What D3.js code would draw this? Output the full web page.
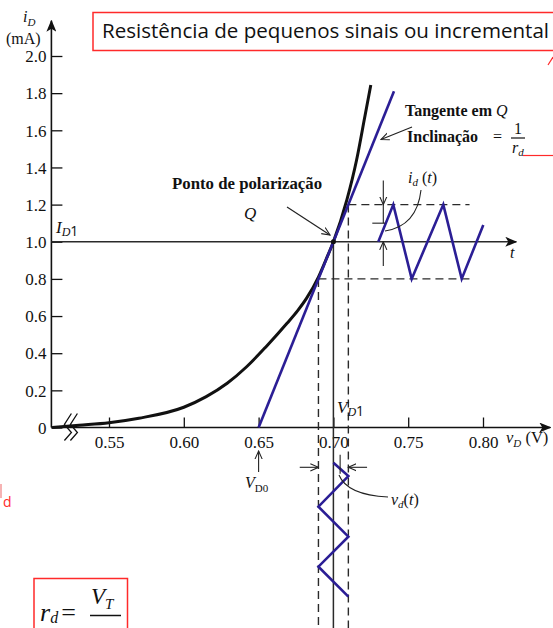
<!DOCTYPE html>
<html>
<head>
<meta charset="utf-8">
<script src="https://cdn.jsdelivr.net/npm/d3@7"></script>
<style>
  html, body { margin: 0; padding: 0; background: #fff; }
  svg { display: block; }
  .serif { font-family: "Liberation Serif", "DejaVu Serif", serif; }
  .sans { font-family: "Open Sans", "Liberation Sans", sans-serif; }
</style>
</head>
<body>
<svg id="chart" width="553" height="628"></svg>
<script>
// Diode i-v characteristic (mA vs V)
const curveV = [0.512, 0.53, 0.55, 0.57, 0.60, 0.615, 0.629, 0.642, 0.655, 0.669, 0.676, 0.682, 0.690, 0.695, 0.700, 0.709, 0.7155, 0.721, 0.725];
const curveI = [0.0, 0.012, 0.026, 0.05, 0.109, 0.166, 0.238, 0.327, 0.435, 0.561, 0.628, 0.695, 0.81, 0.903, 1.0, 1.225, 1.44, 1.673, 1.844];

// Tangent at the bias point Q (slope 1/r_d)
const tangentV = [0.65, 0.7405];
const tangentI = [0.0, 1.81];

// Bias point
const qV = 0.70, qI = 1.0;
// Signal swing limits
const swingV = [0.69, 0.71];
const swingI = [0.8, 1.2];

// Small-signal current i_d(t): time (arbitrary units) and current (mA)
const idT = [0, 0.75, 1.67, 3.25, 4.17, 5.25];
const idI = [1.0, 1.2, 0.8, 1.2, 0.8, 1.09];

// Small-signal voltage v_d(t): voltage (V) and time downward (arbitrary units)
const vdV = [0.70, 0.71, 0.69, 0.71, 0.69, 0.71];
const vdT = [0, 0.67, 2.2, 3.7, 5.2, 6.7];

// Tick labels
const xTicks = [0.55, 0.60, 0.65, 0.70, 0.75, 0.80];
const yTicks = [0, 0.2, 0.4, 0.6, 0.8, 1.0, 1.2, 1.4, 1.6, 1.8, 2.0];

// Axis extents
const vAxisMin = 0.5115, vAxisMax = 0.845, iAxisMax = 2.19;
const iBelow = -1.1;
const tAxisMax = 6.9;
const swingEndV = 0.791;

const svg = d3.select("#chart");
const x = d3.scaleLinear().domain([0.55, 0.80]).range([109, 483]);
const y = d3.scaleLinear().domain([0, 2.0]).range([427.5, 56]);
const tx = d3.scaleLinear().domain([0, 1]).range([378.3, 398.3]);   // time axis of i_d(t)
const ty = d3.scaleLinear().domain([0, 1]).range([462.7, 482.7]);   // time axis of v_d(t)

const BLACK = "#111", BLUE = "#2b1e95", GRID = "#2a2a2a", RED = "#ff2a2a";

// arrow markers
const defs = svg.append("defs");
defs.append("marker").attr("id", "solidArrow").attr("viewBox", "0 0 12 10")
  .attr("refX", 11).attr("refY", 5).attr("markerWidth", 12).attr("markerHeight", 10)
  .attr("markerUnits", "userSpaceOnUse").attr("orient", "auto")
  .append("path").attr("d", "M0,0 L12,5 L0,10 L3,5 Z").attr("fill", "#111");
defs.append("marker").attr("id", "openArrow").attr("viewBox", "0 0 10 10")
  .attr("refX", 9).attr("refY", 5).attr("markerWidth", 9).attr("markerHeight", 9)
  .attr("markerUnits", "userSpaceOnUse").attr("orient", "auto")
  .append("path").attr("d", "M0,1 L9,5 L0,9").attr("fill", "none").attr("stroke", "#222").attr("stroke-width", 1.2);

// ---- Axes ----
const yAxis = d3.axisLeft(y).tickValues(yTicks)
  .tickFormat(d => d === 0 ? "0" : d3.format(".1f")(d))
  .tickSizeInner(-11).tickSizeOuter(0).tickPadding(5);
const gy = svg.append("g").attr("transform", `translate(${x(vAxisMin)},0)`).call(yAxis);
gy.select(".domain").remove();
gy.selectAll(".tick line").attr("stroke", BLACK).attr("stroke-width", 1.3);
gy.selectAll(".tick text").attr("class", "serif").attr("font-size", 17).attr("fill", "#111").attr("dy", "0.34em");

const xAxis = d3.axisBottom(x).tickValues(xTicks).tickFormat(d3.format(".2f"))
  .tickSizeInner(-10).tickSizeOuter(0).tickPadding(5);
const gx = svg.append("g").attr("transform", `translate(0,${y(0)})`).call(xAxis);
gx.select(".domain").remove();
gx.selectAll(".tick line").attr("stroke", BLACK).attr("stroke-width", 1.3);
gx.selectAll(".tick text").attr("class", "serif").attr("font-size", 17).attr("fill", "#111").attr("dy", "0.9em");

// axis lines with arrowheads
svg.append("line").attr("x1", x(vAxisMin)).attr("y1", y(0)).attr("x2", x(vAxisMin)).attr("y2", y(iAxisMax))
  .attr("stroke", BLACK).attr("stroke-width", 1.6).attr("marker-end", "url(#solidArrow)");
svg.append("line").attr("x1", x(vAxisMin)).attr("y1", y(0)).attr("x2", x(vAxisMax)).attr("y2", y(0))
  .attr("stroke", BLACK).attr("stroke-width", 1.6).attr("marker-end", "url(#solidArrow)");

// axis break mark
const bx = x(vAxisMin) + 14, by = y(0);
[0, 6].forEach(o => {
  svg.append("path")
    .attr("d", `M${bx + o + 6},${by - 14} L${bx + o - 1},${by - 3} L${bx + o + 6},${by + 5} L${bx + o - 1},${by + 13}`)
    .attr("fill", "none").attr("stroke", BLACK).attr("stroke-width", 1.3);
});

// axis titles
const iD = svg.append("text").attr("class", "serif").attr("x", 23).attr("y", 22).attr("font-size", 16).attr("font-style", "italic").attr("fill", "#111");
iD.append("tspan").text("i");
iD.append("tspan").attr("font-size", 11).attr("dy", 4).text("D");
svg.append("text").attr("class", "serif").attr("x", 6).attr("y", 44).attr("font-size", 16).attr("fill", "#111").text("(mA)");

const vD = svg.append("text").attr("class", "serif").attr("x", 506).attr("y", 443).attr("font-size", 16.5).attr("fill", "#111");
vD.append("tspan").attr("font-style", "italic").text("v");
vD.append("tspan").attr("font-style", "italic").attr("font-size", 11).attr("dy", 4).text("D");
vD.append("tspan").attr("dy", -4).text(" (V)");

// ---- Reference lines ----
// horizontal line at I_D1, continuing as time axis of i_d(t)
svg.append("line").attr("x1", x(vAxisMin)).attr("y1", y(qI)).attr("x2", tx(tAxisMax)).attr("y2", y(qI))
  .attr("stroke", GRID).attr("stroke-width", 1.5).attr("marker-end", "url(#solidArrow)");
// vertical solid line at V_D1
svg.append("line").attr("x1", x(qV)).attr("y1", y(qI)).attr("x2", x(qV)).attr("y2", y(iBelow))
  .attr("stroke", GRID).attr("stroke-width", 1.5);

// dashed swing lines
const dash = "8,5";
svg.append("line").attr("x1", x(swingV[1])).attr("y1", y(swingI[1])).attr("x2", x(swingEndV)).attr("y2", y(swingI[1]))
  .attr("stroke", GRID).attr("stroke-width", 1.4).attr("stroke-dasharray", dash);
svg.append("line").attr("x1", x(swingV[0])).attr("y1", y(swingI[0])).attr("x2", x(swingEndV)).attr("y2", y(swingI[0]))
  .attr("stroke", GRID).attr("stroke-width", 1.4).attr("stroke-dasharray", dash);
svg.append("line").attr("x1", x(swingV[1])).attr("y1", y(swingI[1])).attr("x2", x(swingV[1])).attr("y2", y(iBelow))
  .attr("stroke", GRID).attr("stroke-width", 1.4).attr("stroke-dasharray", dash);
svg.append("line").attr("x1", x(swingV[0])).attr("y1", y(swingI[0])).attr("x2", x(swingV[0])).attr("y2", y(iBelow))
  .attr("stroke", GRID).attr("stroke-width", 1.4).attr("stroke-dasharray", dash);

// ---- Characteristic and tangent ----
const curveData = curveV.map((v, k) => [v, curveI[k]]);
svg.append("path").datum(curveData)
  .attr("d", d3.line().x(d => x(d[0])).y(d => y(d[1])).curve(d3.curveMonotoneX))
  .attr("fill", "none").attr("stroke", BLACK).attr("stroke-width", 3);

const tanData = tangentV.map((v, k) => [v, tangentI[k]]);
svg.append("path").datum(tanData)
  .attr("d", d3.line().x(d => x(d[0])).y(d => y(d[1])))
  .attr("fill", "none").attr("stroke", BLUE).attr("stroke-width", 2.6);

svg.append("circle").attr("cx", x(qV)).attr("cy", y(qI)).attr("r", 2.5).attr("fill", BLACK);

// ---- i_d(t) ----
const idData = idT.map((t, k) => [t, idI[k]]);
svg.append("path").datum(idData)
  .attr("d", d3.line().x(d => tx(d[0])).y(d => y(d[1])))
  .attr("fill", "none").attr("stroke", BLUE).attr("stroke-width", 2.6).attr("stroke-linejoin", "miter");

// amplitude markers
const ax = tx(idT[0]) + 5;
svg.append("line").attr("x1", ax).attr("y1", y(1.33)).attr("x2", ax).attr("y2", y(1.2)).attr("stroke", "#222").attr("stroke-width", 1.1).attr("marker-end", "url(#openArrow)");
svg.append("line").attr("x1", ax).attr("y1", y(1.2)).attr("x2", ax).attr("y2", y(1.1)).attr("stroke", "#222").attr("stroke-width", 1.1);
svg.append("line").attr("x1", ax - 11).attr("y1", y(1.1)).attr("x2", ax + 2).attr("y2", y(1.1)).attr("stroke", "#222").attr("stroke-width", 1.1);
svg.append("line").attr("x1", ax).attr("y1", y(0.87)).attr("x2", ax).attr("y2", y(1.0)).attr("stroke", "#222").attr("stroke-width", 1.1).attr("marker-end", "url(#openArrow)");

// i_d(t) label and leader
svg.append("path").attr("d", `M421,190 Q417,226 385,231`).attr("fill", "none").attr("stroke", "#222").attr("stroke-width", 1.1);
const idL = svg.append("text").attr("class", "serif").attr("x", 408).attr("y", 183).attr("font-size", 16).attr("fill", "#111");
idL.append("tspan").attr("font-style", "italic").text("i");
idL.append("tspan").attr("font-style", "italic").attr("font-size", 11).attr("dy", 3).text("d");
idL.append("tspan").attr("dy", -3).text(" (");
idL.append("tspan").attr("font-style", "italic").text("t");
idL.append("tspan").text(")");

svg.append("text").attr("class", "serif").attr("x", 510).attr("y", 258).attr("font-size", 16).attr("font-style", "italic").attr("fill", "#111").text("t");

// ---- v_d(t) ----
const vdData = vdV.map((v, k) => [v, vdT[k]]);
svg.append("path").datum(vdData)
  .attr("d", d3.line().x(d => x(d[0])).y(d => ty(d[1])))
  .attr("fill", "none").attr("stroke", BLUE).attr("stroke-width", 2.6);

const ay = ty(0.23);
svg.append("line").attr("x1", x(0.6775)).attr("y1", ay).attr("x2", x(swingV[0])).attr("y2", ay).attr("stroke", "#222").attr("stroke-width", 1.1).attr("marker-end", "url(#openArrow)");
svg.append("line").attr("x1", x(0.7225)).attr("y1", ay).attr("x2", x(swingV[1])).attr("y2", ay).attr("stroke", "#222").attr("stroke-width", 1.1).attr("marker-end", "url(#openArrow)");
svg.append("line").attr("x1", x(0.7045)).attr("y1", ty(-0.4)).attr("x2", x(0.7045)).attr("y2", ty(0.55)).attr("stroke", "#222").attr("stroke-width", 1.1);

svg.append("path").attr("d", `M339,475 Q347,495 388,497`).attr("fill", "none").attr("stroke", "#222").attr("stroke-width", 1.1);
const vdL = svg.append("text").attr("class", "serif").attr("x", 391).attr("y", 505).attr("font-size", 16).attr("fill", "#111");
vdL.append("tspan").attr("font-style", "italic").text("v");
vdL.append("tspan").attr("font-style", "italic").attr("font-size", 11).attr("dy", 3).text("d");
vdL.append("tspan").attr("dy", -3).text("(");
vdL.append("tspan").attr("font-style", "italic").text("t");
vdL.append("tspan").text(")");

// ---- V_D0 ----
svg.append("line").attr("x1", x(tangentV[0])).attr("y1", 472).attr("x2", x(tangentV[0])).attr("y2", 451)
  .attr("stroke", "#222").attr("stroke-width", 1.1).attr("marker-end", "url(#openArrow)");
const vd0 = svg.append("text").attr("class", "serif").attr("x", 245).attr("y", 488).attr("font-size", 16).attr("fill", "#111");
vd0.append("tspan").attr("font-style", "italic").text("V");
vd0.append("tspan").attr("font-size", 11).attr("dy", 4).text("D0");

// ---- Labels on the bias point ----
const id1 = svg.append("text").attr("x", 56).attr("y", 233).attr("font-size", 17).attr("fill", "#111");
id1.append("tspan").attr("class", "serif").attr("font-style", "italic").text("I");
id1.append("tspan").attr("class", "serif").attr("font-style", "italic").attr("font-size", 12).attr("dy", 3).text("D");
id1.append("tspan").attr("class", "sans").attr("font-size", 14).text("1");

const vd1 = svg.append("text").attr("x", 337).attr("y", 413).attr("font-size", 17).attr("fill", "#111");
vd1.append("tspan").attr("class", "serif").attr("font-style", "italic").text("V");
vd1.append("tspan").attr("class", "serif").attr("font-style", "italic").attr("font-size", 12).attr("dy", 3).text("D");
vd1.append("tspan").attr("class", "sans").attr("font-size", 14).text("1");

svg.append("text").attr("class", "serif").attr("x", 172).attr("y", 189).attr("font-size", 16.8).attr("font-weight", "bold").attr("fill", "#111").text("Ponto de polarização");
svg.append("text").attr("class", "serif").attr("x", 244).attr("y", 219).attr("font-size", 17).attr("font-style", "italic").attr("fill", "#111").text("Q");
svg.append("line").attr("x1", 287).attr("y1", 207).attr("x2", 330).attr("y2", 235)
  .attr("stroke", "#222").attr("stroke-width", 1.2).attr("marker-end", "url(#openArrow)");

const tg = svg.append("text").attr("class", "serif").attr("x", 405).attr("y", 116).attr("font-size", 16).attr("font-weight", "bold").attr("fill", "#111");
tg.append("tspan").text("Tangente em ");
tg.append("tspan").attr("font-style", "italic").attr("font-weight", "normal").text("Q");
svg.append("text").attr("class", "serif").attr("x", 407).attr("y", 142).attr("font-size", 16).attr("font-weight", "bold").attr("fill", "#111").text("Inclinação");
svg.append("text").attr("class", "serif").attr("x", 493).attr("y", 142).attr("font-size", 16).attr("fill", "#111").text("=");
svg.append("text").attr("class", "serif").attr("x", 518).attr("y", 134).attr("font-size", 16).attr("text-anchor", "middle").attr("fill", "#111").text("1");
svg.append("line").attr("x1", 511).attr("y1", 138).attr("x2", 525).attr("y2", 138).attr("stroke", "#111").attr("stroke-width", 1.2);
const rd = svg.append("text").attr("class", "serif").attr("x", 512).attr("y", 153).attr("font-size", 16).attr("font-style", "italic").attr("fill", "#111");
rd.append("tspan").text("r");
rd.append("tspan").attr("font-size", 11).attr("dy", 3).text("d");
svg.append("line").attr("x1", 412).attr("y1", 127).attr("x2", 381).attr("y2", 139.5)
  .attr("stroke", "#222").attr("stroke-width", 1.2).attr("marker-end", "url(#openArrow)");

// ---- Highlight boxes ----
svg.append("rect").attr("x", 93).attr("y", 12.5).attr("width", 480).attr("height", 38)
  .attr("fill", "none").attr("stroke", RED).attr("stroke-width", 1.5);
svg.append("text").attr("class", "sans").attr("x", 102).attr("y", 38).attr("font-size", 20).attr("fill", "#111")
  .attr("textLength", 447).attr("lengthAdjust", "spacingAndGlyphs")
  .text("Resistência de pequenos sinais ou incremental");
svg.append("line").attr("x1", 548).attr("y1", 65).attr("x2", 553).attr("y2", 57).attr("stroke", RED).attr("stroke-width", 1.2);
svg.append("line").attr("x1", 523).attr("y1", 155.5).attr("x2", 553).attr("y2", 155.5).attr("stroke", RED).attr("stroke-width", 1.2);

svg.append("rect").attr("x", 0).attr("y", 484).attr("width", 2).attr("height", 14).attr("fill", "#f6b3b3");
svg.append("text").attr("class", "sans").attr("x", 3).attr("y", 507).attr("font-size", 14).attr("fill", RED).text("d");

svg.append("rect").attr("x", 34).attr("y", 578.5).attr("width", 93.5).attr("height", 80)
  .attr("fill", "#fff").attr("stroke", RED).attr("stroke-width", 1.5);
const f = svg.append("text").attr("class", "serif").attr("x", 40).attr("y", 621).attr("font-size", 26).attr("fill", "#111");
f.append("tspan").attr("font-style", "italic").text("r");
f.append("tspan").attr("font-style", "italic").attr("font-size", 16).attr("dy", 2).text("d");
f.append("tspan").attr("dy", -2).attr("dx", 3).text("=");
svg.append("text").attr("class", "serif").attr("x", 91).attr("y", 604).attr("font-size", 23).attr("font-style", "italic").attr("fill", "#111")
  .append("tspan").text("V").append("tspan").attr("font-size", 15).attr("dy", 5).text("T");
svg.append("line").attr("x1", 90).attr("y1", 615.5).attr("x2", 121).attr("y2", 615.5).attr("stroke", "#111").attr("stroke-width", 1.5);
</script>
</body>
</html>
